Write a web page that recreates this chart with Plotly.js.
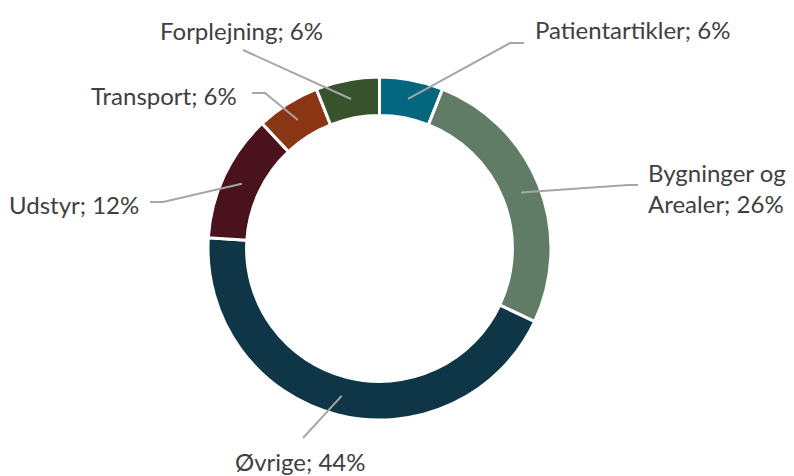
<!DOCTYPE html>
<html><head><meta charset="utf-8">
<script src="https://cdn.plot.ly/plotly-3.0.1.min.js"></script>
<style>html,body{margin:0;padding:0;background:#fff}#chart{width:794px;height:476px}</style>
</head><body><div id="chart"></div>
<script>
// Data
var categories = ["Patientartikler", "Bygninger og Arealer", "Øvrige", "Udstyr", "Transport", "Forplejning"];
var labelTexts = ["Patientartikler; 6%", "Bygninger og<br>Arealer; 26%", "Øvrige; 44%", "Udstyr; 12%", "Transport; 6%", "Forplejning; 6%"];
var values = [6, 26, 44, 12, 6, 6];

// Styles / layout config
var colors = ["#02677F", "#607C66", "#0E3646", "#4A121C", "#8A3614", "#38532C"];
var W = 794, H = 476;
var cx = 379.5, cy = 248.5, R = 171.5, hole = 0.775;
// label placement (pixel): elbow points and text anchor
var place = [
  {pts: [[510, 43], [524, 43]], tx: 533, ty: 29, xa: "left"},
  {pts: [[628, 185], [638, 185]], tx: 646, ty: 188, xa: "left"},
  {pts: [[303, 438]], tx: 300, ty: 461, xa: "center"},
  {pts: [[163, 202], [150, 202]], tx: 141, ty: 204, xa: "right"},
  {pts: [[265, 93], [252, 93]], tx: 239, ty: 96, xa: "right"},
  {pts: [[243, 50]], tx: 241, ty: 31, xa: "center"}
];

var total = values.reduce(function (a, b) { return a + b; }, 0);
var rMid = R * (1 + hole) / 2;
var shapes = [], annotations = [];
var cum = 0;
function px(x) { return x / W; }
function py(y) { return 1 - y / H; }
values.forEach(function (v, i) {
  var mid = (cum + v / 2) / total * 2 * Math.PI;
  cum += v;
  var ax = cx + rMid * Math.sin(mid), ay = cy - rMid * Math.cos(mid);
  var p = "M " + px(ax) + " " + py(ay);
  place[i].pts.forEach(function (q) { p += " L " + px(q[0]) + " " + py(q[1]); });
  shapes.push({type: "path", xref: "paper", yref: "paper", path: p,
    line: {color: "#A6A6A6", width: 2}});
  annotations.push({xref: "paper", yref: "paper", x: px(place[i].tx), y: py(place[i].ty),
    xanchor: place[i].xa, yanchor: "middle", align: "left", showarrow: false,
    text: labelTexts[i], font: {family: "Lato, sans-serif", size: 24, color: "#404040"}});
});

var trace = {
  type: "pie", labels: categories, values: values, sort: false, direction: "clockwise",
  rotation: 0, hole: hole, textinfo: "none", hoverinfo: "label+percent",
  marker: {colors: colors, line: {color: "#ffffff", width: 3}},
  domain: {x: [(cx - R) / W, (cx + R) / W], y: [1 - (cy + R) / H, 1 - (cy - R) / H]},
  showlegend: false
};
var layout = {
  width: W, height: H, margin: {l: 0, r: 0, t: 0, b: 0},
  paper_bgcolor: "#fff", plot_bgcolor: "#fff",
  shapes: shapes, annotations: annotations, showlegend: false
};
Plotly.newPlot("chart", [trace], layout, {displayModeBar: false, staticPlot: true});
</script></body></html>
